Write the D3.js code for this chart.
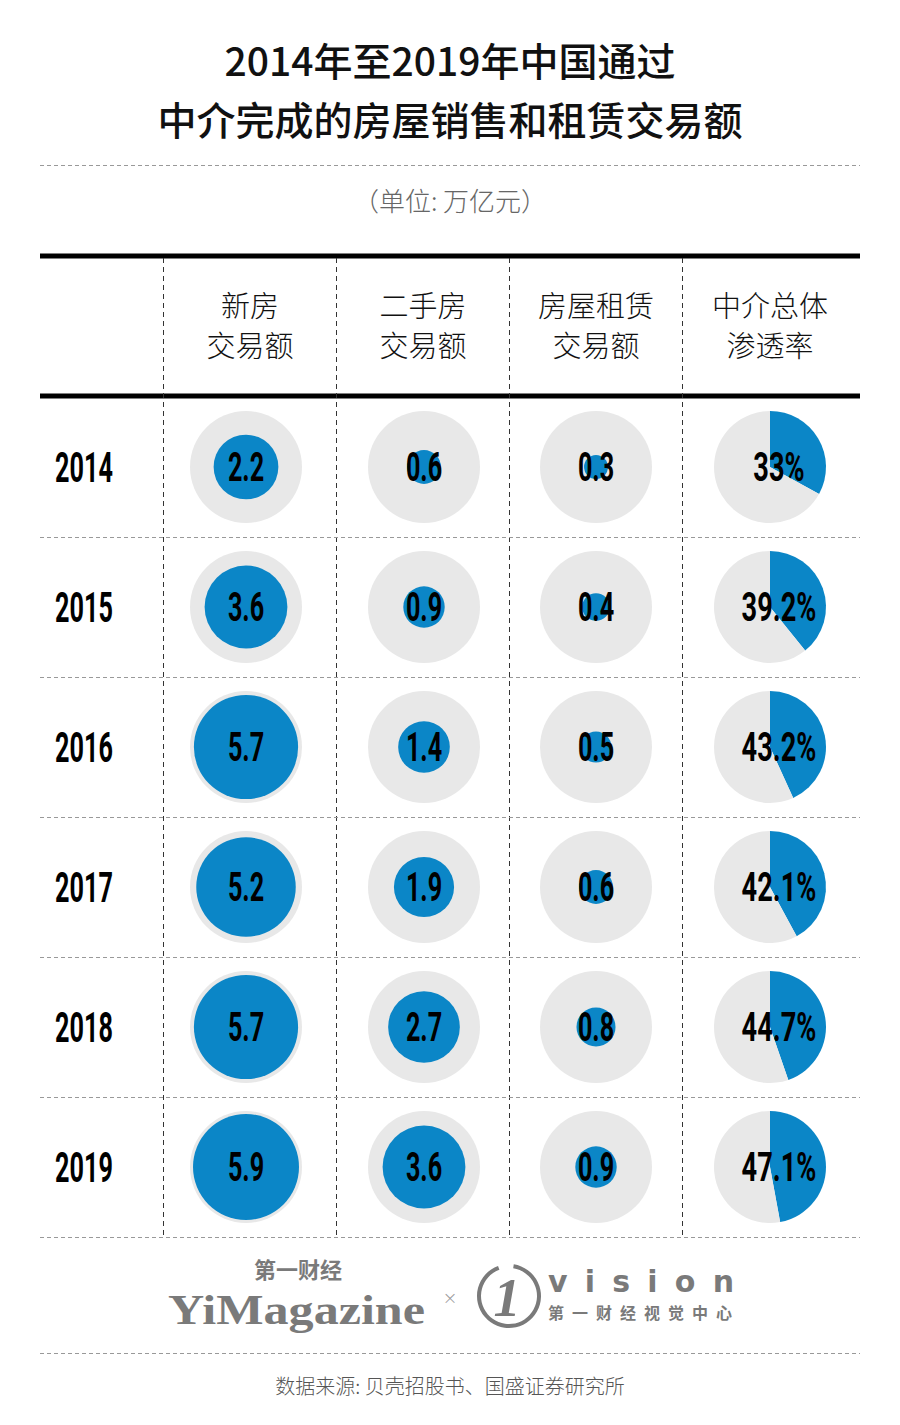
<!DOCTYPE html>
<html><head><meta charset="utf-8">
<script src="https://cdn.jsdelivr.net/npm/d3@7"></script>
<style>
html,body{margin:0;padding:0;background:#fff;}
svg{display:block;}
</style></head>
<body>
<svg id="chart" width="900" height="1425"></svg>
<script>
const titleLines = ["2014年至2019年中国通过", "中介完成的房屋销售和租赁交易额"];
const unitText = "（单位: 万亿元）";
const columnHeaders = [["新房","交易额"],["二手房","交易额"],["房屋租赁","交易额"],["中介总体","渗透率"]];
const years = ["2014","2015","2016","2017","2018","2019"];
const newHouse = [2.2, 3.6, 5.7, 5.2, 5.7, 5.9];
const secondHand = [0.6, 0.9, 1.4, 1.9, 2.7, 3.6];
const rental = [0.3, 0.4, 0.5, 0.6, 0.8, 0.9];
const penetration = [33, 39.2, 43.2, 42.1, 44.7, 47.1];
const penetrationLabels = ["33%","39.2%","43.2%","42.1%","44.7%","47.1%"];
const sourceText = "数据来源: 贝壳招股书、国盛证券研究所";

const svg = d3.select("#chart");
const BLUE = "#0b86c7", GREY = "#e8e8e8";
const CJK = "'Noto Sans CJK SC','Noto Sans',sans-serif";
const COND = "Roboto,'Liberation Sans',sans-serif";

// Title
svg.selectAll("text.title").data(titleLines).join("text")
  .attr("x", 450).attr("y", (d,i) => 76 + i*59)
  .attr("text-anchor","middle").attr("font-family",CJK)
  .attr("font-size",39).attr("font-weight",500).attr("fill","#111").text(d=>d);

const left = 40, right = 860;
svg.append("line").attr("x1",left).attr("x2",right).attr("y1",165.5).attr("y2",165.5)
  .attr("stroke","#999").attr("stroke-dasharray","4,3");

svg.append("text").attr("x",450).attr("y",211).attr("text-anchor","middle")
  .attr("font-family",CJK).attr("font-size",26).attr("font-weight",300).attr("fill","#666").text(unitText);

// Layout
const colEdges = [163, 336, 509, 682, 860];
const colCenters = [246, 424, 596, 770];
const rowY = d3.scaleBand().domain(years).range([397, 1237]);

// thick lines
[256, 396].forEach(y => svg.append("line").attr("x1",left).attr("x2",right)
  .attr("y1",y).attr("y2",y).attr("stroke","#000").attr("stroke-width",5));

// vertical dashed dividers
colEdges.slice(0,4).forEach(x => svg.append("line").attr("x1",x+0.5).attr("x2",x+0.5)
  .attr("y1",258).attr("y2",1237).attr("stroke","#333").attr("stroke-dasharray","5,4").attr("stroke-width",1));

// row separators
years.forEach(y => svg.append("line").attr("x1",left).attr("x2",right)
  .attr("y1",rowY(y)+rowY.bandwidth()+0.5).attr("y2",rowY(y)+rowY.bandwidth()+0.5)
  .attr("stroke","#999").attr("stroke-dasharray","4,3"));

// headers
columnHeaders.forEach((lines,i) => {
  const hx = [250, 423, 596, 770][i];
  lines.forEach((t,j) => svg.append("text").attr("x",hx).attr("y",317+j*40)
    .attr("text-anchor","middle").attr("font-family",CJK).attr("font-size",29)
    .attr("font-weight",300).attr("fill","#111").text(t));
});

function condText(g, x, y, txt, size, sx) {
  g.append("text").attr("transform",`translate(${x},${y}) scale(${sx},1)`)
    .attr("text-anchor","middle").attr("font-family",COND).attr("font-weight",700)
    .attr("font-size",size).attr("fill","#000").text(txt);
}

const rScale = d3.scaleSqrt().domain([0, 5.9]).range([0, 53]);
const R = 56;
const series = [newHouse, secondHand, rental];
const pie = d3.pie().sort(null).value(d=>d);
const arc = d3.arc().innerRadius(0).outerRadius(R);

years.forEach((yr, r) => {
  const cy = rowY(yr) + rowY.bandwidth()/2;
  const g = svg.append("g");
  condText(g, 84, cy + 15, yr, 42, 0.6);
  series.forEach((s, c) => {
    const cx = colCenters[c];
    g.append("circle").attr("cx",cx).attr("cy",cy).attr("r",R).attr("fill",GREY);
    g.append("circle").attr("cx",cx).attr("cy",cy).attr("r",rScale(s[r])).attr("fill",BLUE);
    condText(g, cx, cy + 14, d3.format(".1f")(s[r]), 40, 0.63);
  });
  const cx = colCenters[3];
  const pg = g.append("g").attr("transform",`translate(${cx},${cy})`);
  pg.selectAll("path").data(pie([penetration[r], 100 - penetration[r]])).join("path")
    .attr("d", arc).attr("fill",(d,i)=> i===0 ? BLUE : GREY);
  condText(g, cx + 9, cy + 14, penetrationLabels[r], 40, 0.68);
});

// Logos
const LG = "#7a7a7a";
svg.append("text").attr("x",298).attr("y",1278).attr("text-anchor","middle")
  .attr("font-family",CJK).attr("font-size",22).attr("font-weight",700).attr("fill",LG).text("第一财经");
svg.append("text").attr("x",168).attr("y",1324).attr("font-family","'Liberation Serif','DejaVu Serif',serif")
  .attr("font-size",42).attr("font-weight",700).attr("fill",LG)
  .attr("textLength",257).attr("lengthAdjust","spacingAndGlyphs").text("YiMagazine");
svg.append("text").attr("x",450).attr("y",1304).attr("text-anchor","middle")
  .attr("font-family","'DejaVu Sans',sans-serif").attr("font-size",18).attr("font-weight",300).attr("fill","#999").text("×");
const logoArc = d3.arc().innerRadius(28).outerRadius(32).startAngle(0.15).endAngle(2*Math.PI-0.35);
svg.append("path").attr("transform","translate(509,1296)").attr("d",logoArc()).attr("fill",LG);
svg.append("text").attr("x",507).attr("y",1316).attr("text-anchor","middle")
  .attr("font-family","'Liberation Serif',serif").attr("font-style","italic").attr("font-weight",700)
  .attr("font-size",54).attr("fill",LG).text("1");
svg.append("text").attr("x",548).attr("y",1292).attr("font-family","'DejaVu Sans',sans-serif")
  .attr("font-size",30).attr("font-weight",700).attr("fill",LG)
  .attr("textLength",186).attr("lengthAdjust","spacing").text("vision");
svg.append("text").attr("x",548).attr("y",1319).attr("font-family",CJK)
  .attr("font-size",16).attr("font-weight",700).attr("fill",LG)
  .attr("textLength",184).attr("lengthAdjust","spacing").text("第一财经视觉中心");

svg.append("line").attr("x1",left).attr("x2",right).attr("y1",1353.5).attr("y2",1353.5)
  .attr("stroke","#999").attr("stroke-dasharray","4,3");
svg.append("text").attr("x",450).attr("y",1394).attr("text-anchor","middle")
  .attr("font-family",CJK).attr("font-size",20).attr("font-weight",300).attr("fill","#555").text(sourceText);
</script>
</body></html>
